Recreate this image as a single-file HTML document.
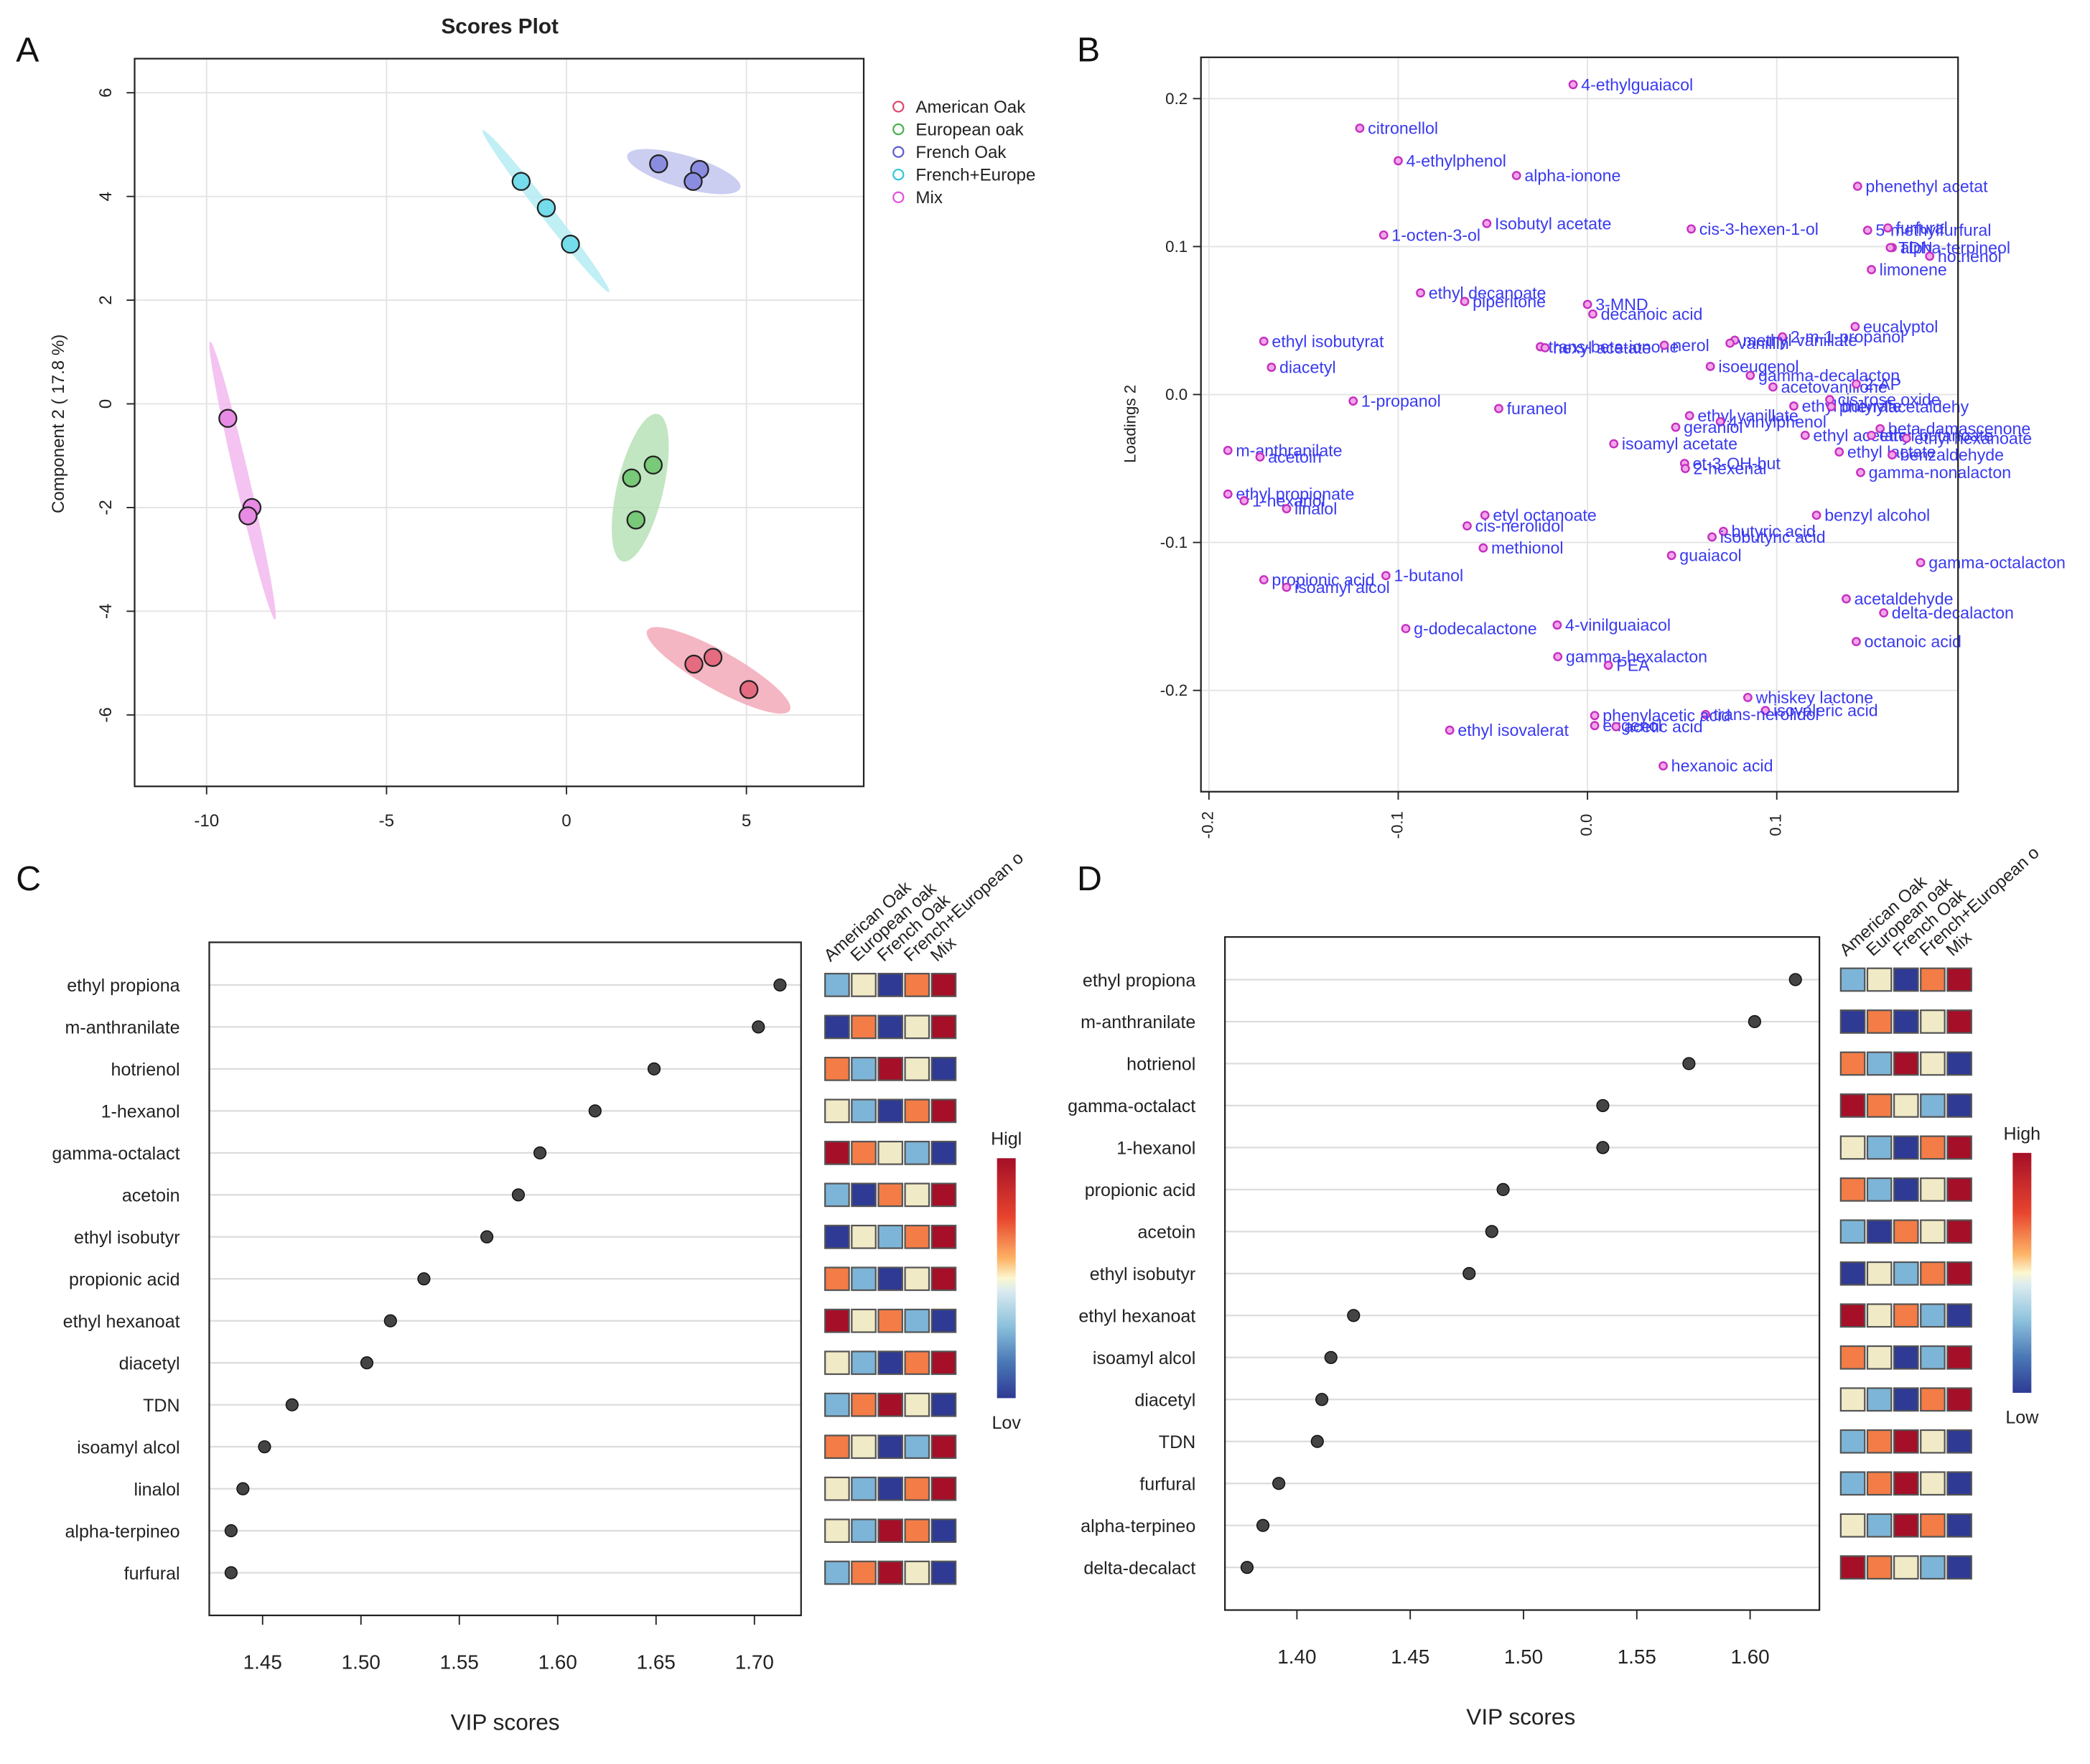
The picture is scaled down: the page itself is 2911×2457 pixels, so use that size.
<!DOCTYPE html>
<html><head><meta charset="utf-8">
<style>
html,body{margin:0;padding:0;background:#fff;}
svg{display:block;font-family:"Liberation Sans",sans-serif;}
</style></head>
<body>
<svg id="fig" width="2911" height="2457" viewBox="0 0 1568 1323.5" preserveAspectRatio="none" xmlns="http://www.w3.org/2000/svg">
<rect x="0" y="0" width="1568" height="1324" fill="#fff"/>
<g id="gA"></g>
<g id="gB"></g>
<g id="gC"></g>
<g id="gD"></g>
</svg>
<script>
// ---------- Panel A data ----------
const groupsA = ["American Oak","European oak","French Oak","French+Europe","Mix"];
const pointsAX = [[3.54,4.07,5.07],[1.81,2.41,1.93],[2.56,3.70,3.52],[-1.26,-0.56,0.11],[-9.41,-8.74,-8.85]];
const pointsAY = [[-5.02,-4.89,-5.51],[-1.43,-1.18,-2.24],[4.63,4.52,4.29],[4.29,3.78,3.08],[-0.28,-2.00,-2.16]];
const xTicksA = [-10,-5,0,5];
const yTicksA = [6,4,2,0,-2,-4,-6];
// ---------- Panel B data ----------
const loadNames = ["4-ethylguaiacol","citronellol","4-ethylphenol","alpha-ionone","phenethyl acetat","Isobutyl acetate","1-octen-3-ol","cis-3-hexen-1-ol","5-methylfurfural","furfural","alpha-terpineol","TDN","hotrienol","limonene","ethyl decanoate","piperitone","3-MND","decanoic acid","eucalyptol","2-m-1-propanol","methyl vanillate","vanillin","ethyl isobutyrat","trans-beta-ionone","hexyl acetate","nerol","diacetyl","isoeugenol","gamma-decalacton","acetovanillone","2-AP","1-propanol","furaneol","ethyl butyrate","cis-rose oxide","phenylacetaldehy","ethyl vanillate","4-vinylphenol","geraniol","beta-damascenone","ethyl acetate","ethyl butanoate","ethyl hexanoate","isoamyl acetate","ethyl lactate","benzaldehyde","m-anthranilate","acetoin","et-3-OH-but","2-hexenal","gamma-nonalacton","ethyl propionate","1-hexanol","linalol","etyl octanoate","cis-nerolidol","benzyl alcohol","butyric acid","isobutyric acid","methionol","guaiacol","gamma-octalacton","propionic acid","1-butanol","isoamyl alcol","acetaldehyde","delta-decalacton","g-dodecalactone","4-vinilguaiacol","octanoic acid","gamma-hexalacton","PEA","whiskey lactone","isovaleric acid","trans-nerolidol","phenylacetic acid","eugenol","acetic acid","ethyl isovalerat","hexanoic acid"];
const loadX = [-0.0076,-0.1203,-0.100,-0.0375,0.1427,-0.0532,-0.1077,0.0548,0.148,0.1587,0.161,0.160,0.1808,0.150,-0.0882,-0.0649,0.0,0.0028,0.1414,0.103,0.0778,0.0753,-0.171,-0.0249,-0.0224,0.0406,-0.167,0.0649,0.086,0.098,0.142,-0.1238,-0.0469,0.109,0.128,0.1288,0.0539,0.0702,0.0466,0.1546,0.115,0.150,0.1685,0.0139,0.133,0.161,-0.190,-0.173,0.0513,0.0517,0.1443,-0.190,-0.1814,-0.159,-0.0542,-0.0636,0.121,0.0718,0.0658,-0.0551,0.0444,0.176,-0.171,-0.1065,-0.159,0.1367,0.1565,-0.096,-0.016,0.142,-0.0157,0.011,0.0847,0.094,0.0624,0.0038,0.0038,0.0151,-0.0728,0.040];
const loadY = [0.2095,0.180,0.158,0.148,0.1408,0.1156,0.1078,0.1119,0.111,0.1126,0.0993,0.0993,0.0935,0.0844,0.0687,0.0629,0.0609,0.0544,0.0459,0.039,0.0367,0.0347,0.036,0.0323,0.0316,0.0333,0.0184,0.019,0.0129,0.0051,0.0071,-0.0044,-0.0095,-0.0078,-0.0034,-0.0082,-0.0143,-0.0184,-0.0221,-0.0231,-0.0276,-0.0276,-0.0296,-0.0333,-0.0388,-0.0408,-0.0378,-0.0422,-0.0466,-0.050,-0.0527,-0.0673,-0.0718,-0.0772,-0.0816,-0.0888,-0.0816,-0.0925,-0.0963,-0.1037,-0.1088,-0.1136,-0.1252,-0.1224,-0.1303,-0.1381,-0.1476,-0.1582,-0.1558,-0.167,-0.1772,-0.183,-0.2048,-0.2136,-0.2163,-0.217,-0.2238,-0.2245,-0.2269,-0.251];
const xTicksB = [-0.2,-0.1,0.0,0.1];
const yTicksB = [0.2,0.1,0.0,-0.1,-0.2];
// ---------- Panel C data ----------
const heatCols = ["American Oak","European oak","French Oak","French+European o","Mix"];
const namesC = ["ethyl propiona","m-anthranilate","hotrienol","1-hexanol","gamma-octalact","acetoin","ethyl isobutyr","propionic acid","ethyl hexanoat","diacetyl","TDN","isoamyl alcol","linalol","alpha-terpineo","furfural"];
const vipC = [1.713,1.702,1.649,1.619,1.591,1.580,1.564,1.532,1.515,1.503,1.465,1.451,1.440,1.434,1.434];
const heatC = [[1,2,0,3,4],[0,3,0,2,4],[3,1,4,2,0],[2,1,0,3,4],[4,3,2,1,0],[1,0,3,2,4],[0,2,1,3,4],[3,1,0,2,4],[4,2,3,1,0],[2,1,0,3,4],[1,3,4,2,0],[3,2,0,1,4],[2,1,0,3,4],[2,1,4,3,0],[1,3,4,2,0]];
const ticksC = [1.45,1.50,1.55,1.60,1.65,1.70];
// ---------- Panel D data ----------
const namesD = ["ethyl propiona","m-anthranilate","hotrienol","gamma-octalact","1-hexanol","propionic acid","acetoin","ethyl isobutyr","ethyl hexanoat","isoamyl alcol","diacetyl","TDN","furfural","alpha-terpineo","delta-decalact"];
const vipD = [1.620,1.602,1.573,1.535,1.535,1.491,1.486,1.476,1.425,1.415,1.411,1.409,1.392,1.385,1.378];
const heatD = [[1,2,0,3,4],[0,3,0,2,4],[3,1,4,2,0],[4,3,2,1,0],[2,1,0,3,4],[3,1,0,2,4],[1,0,3,2,4],[0,2,1,3,4],[4,2,3,1,0],[3,2,0,1,4],[2,1,0,3,4],[1,3,4,2,0],[1,3,4,2,0],[2,1,4,3,0],[4,3,2,1,0]];
const ticksD = [1.40,1.45,1.50,1.55,1.60];

const NS="http://www.w3.org/2000/svg";
function mk(parent,tag,attrs,text){const e=document.createElementNS(NS,tag);for(const k in attrs)e.setAttribute(k,attrs[k]);if(text!==undefined)e.textContent=text;parent.appendChild(e);return e;}
const fig=document.getElementById('fig');

[["A",12,46],["B",808,46],["C",12,668],["D",808,668]].forEach(l=>{
  const t=mk(fig,'text',{x:l[1],y:l[2],'font-size':26,fill:'#111'},l[0]);
  
  
});

// ===== Panel A =====
(function(){
const g=document.getElementById('gA');
const L=101,R=648,T=44,B=590;
const sx=v=>425+v*27, sy=v=>303-v*38.9;
xTicksA.forEach(v=>{const l=mk(g,'line',{x1:sx(v),x2:sx(v),y1:T,y2:B,stroke:'#e3e3e3','stroke-width':1});
  });
yTicksA.forEach(v=>{const l=mk(g,'line',{x1:L,x2:R,y1:sy(v),y2:sy(v),stroke:'#e3e3e3','stroke-width':1});
  });
const fills=['#f2a9b8','#b7e0b7','#c2c4ee','#b5ecf3','#f2b8ee'];
const pf=['#e56b80','#78c978','#8a8ddf','#74dcea','#e78be4'];
const lc=['#e0456a','#4caf50','#5a5ad0','#33c6dc','#e050e0'];
pointsAX.forEach((xs,gi)=>{
  const ys=pointsAY[gi];
  const px=xs.map(sx),py=ys.map(sy);
  const mx=px.reduce((a,b)=>a+b)/3,my=py.reduce((a,b)=>a+b)/3;
  let sxx=0,syy=0,sxy=0;for(let i=0;i<3;i++){sxx+=(px[i]-mx)**2;syy+=(py[i]-my)**2;sxy+=(px[i]-mx)*(py[i]-my);}
  sxx/=2;syy/=2;sxy/=2;
  const tr=sxx+syy,det=sxx*syy-sxy*sxy,d=Math.sqrt(Math.max(tr*tr/4-det,0));
  const l1=tr/2+d,l2=Math.max(tr/2-d,0.5);
  const ang=Math.atan2(l1-sxx,sxy||1e-6)*180/Math.PI;
  const k=2.45;
  const e=mk(g,'ellipse',{cx:mx,cy:my,rx:k*Math.sqrt(l1)*1.05,ry:Math.max(k*Math.sqrt(l2),5),transform:`rotate(${ang} ${mx} ${my})`,fill:fills[gi],'fill-opacity':0.85});
  
  
});
pointsAX.forEach((xs,gi)=>{xs.forEach((x,i)=>{
  const c=mk(g,'circle',{cx:sx(x),cy:sy(pointsAY[gi][i]),r:6.5,fill:pf[gi],stroke:'#222','stroke-width':1.2});
  
});});
mk(g,'rect',{x:L,y:T,width:R-L,height:B-T,fill:'none',stroke:'#222','stroke-width':1.2});
xTicksA.forEach(v=>{mk(g,'line',{x1:sx(v),x2:sx(v),y1:B,y2:B+6,stroke:'#222'});
  const t=mk(g,'text',{x:sx(v),y:B+30,'font-size':13,'text-anchor':'middle',fill:'#222'},String(v));
  });
yTicksA.forEach(v=>{mk(g,'line',{x1:L-6,x2:L,y1:sy(v),y2:sy(v),stroke:'#222'});
  const t=mk(g,'text',{x:80,y:sy(v),'font-size':13,'text-anchor':'middle',fill:'#222',transform:`rotate(-90 80 ${sy(v)})`,'dominant-baseline':'middle'},String(v));
  });
const yt=mk(g,'text',{x:48,y:318,'font-size':13,'text-anchor':'middle',fill:'#222',transform:'rotate(-90 48 318)'},'Component 2 ( 17.8 %)');

const ti=mk(g,'text',{x:375,y:25,'font-size':16,'font-weight':'bold','text-anchor':'middle',fill:'#222'},'Scores Plot');

groupsA.forEach((n,i)=>{
  const y=80+i*17;
  const c=mk(g,'circle',{cx:674,cy:y,r:3.8,fill:'none',stroke:lc[i],'stroke-width':1.2});
  
  const t=mk(g,'text',{x:687,y:y+4.5,'font-size':13,fill:'#222'},n);
  
});
})();

// ===== Panel B =====
(function(){
const g=document.getElementById('gB');
const L=901,R=1469,T=43,B=594;
const sx=v=>1191+v*1420, sy=v=>296-v*1110;
xTicksB.forEach(v=>{const l=mk(g,'line',{x1:sx(v),x2:sx(v),y1:T,y2:B,stroke:'#e3e3e3'});});
yTicksB.forEach(v=>{const l=mk(g,'line',{x1:L,x2:R,y1:sy(v),y2:sy(v),stroke:'#e3e3e3'});});
const clip=mk(g,'clipPath',{id:'clipB'});mk(clip,'rect',{x:L,y:T,width:R-L+80,height:B-T});
const inner=mk(g,'g',{'clip-path':'url(#clipB)'});
loadNames.forEach((n,i)=>{
  const x=sx(loadX[i]),y=sy(loadY[i]);
  const c=mk(inner,'circle',{cx:x,cy:y,r:2.8,fill:'#f3a6ea',stroke:'#c530c0','stroke-width':1.3});
  
  const t=mk(inner,'text',{x:x+6,y:y+4.3,'font-size':12.5,fill:'#3a3af0'},n);
  
});
mk(g,'rect',{x:L,y:T,width:R-L,height:B-T,fill:'none',stroke:'#222','stroke-width':1.2});
xTicksB.forEach(v=>{mk(g,'line',{x1:sx(v),x2:sx(v),y1:B,y2:B+6,stroke:'#222'});
  const lab=v===0?'0.0':String(v);
  const t=mk(g,'text',{x:sx(v),y:B+25,'font-size':12,'text-anchor':'middle','dominant-baseline':'middle',fill:'#222',transform:`rotate(-90 ${sx(v)} ${B+25})`},lab);
  });
yTicksB.forEach(v=>{mk(g,'line',{x1:L-6,x2:L,y1:sy(v),y2:sy(v),stroke:'#222'});
  const lab=v===0?'0.0':String(v);
  const t=mk(g,'text',{x:L-10,y:sy(v)+4,'font-size':12,'text-anchor':'end',fill:'#222'},lab);
  });
const yt=mk(g,'text',{x:852,y:318,'font-size':12,'text-anchor':'middle',fill:'#222',transform:'rotate(-90 852 318)'},'Loadings 2');

})();

// ===== VIP panels =====
const heatColors=['#2e3a94','#7db5d8','#f1eac6','#f47c46','#a50f27'];
function vipPanel(gid,names,vals,heat,ticks,cfg){
  const g=document.getElementById(gid);
  const sx=v=>cfg.x0+(v-ticks[0])*cfg.k;
  const rowY=i=>cfg.y0+i*cfg.dy;
  names.forEach((n,i)=>{
    const l=mk(g,'line',{x1:cfg.L,x2:cfg.R,y1:rowY(i),y2:rowY(i),stroke:'#dcdcdc','stroke-width':1.2});
    
    const t=mk(g,'text',{x:cfg.L-22,y:rowY(i)+5,'font-size':13.5,'text-anchor':'end',fill:'#222'},n);
    
  });
  mk(g,'rect',{x:cfg.L,y:cfg.T,width:cfg.R-cfg.L,height:cfg.B-cfg.T,fill:'none',stroke:'#222','stroke-width':1.2});
  vals.forEach((v,i)=>{
    const c=mk(g,'circle',{cx:sx(v),cy:rowY(i),r:4.5,fill:'#444',stroke:'#111','stroke-width':0.8});
    
  });
  ticks.forEach(v=>{
    mk(g,'line',{x1:sx(v),x2:sx(v),y1:cfg.B,y2:cfg.B+7,stroke:'#222'});
    const t=mk(g,'text',{x:sx(v),y:cfg.B+40,'font-size':15,'text-anchor':'middle',fill:'#222'},v.toFixed(2));
    
  });
  const at=mk(g,'text',{x:cfg.titleX,y:cfg.B+86,'font-size':17,'text-anchor':'middle',fill:'#222'},'VIP scores');
  
  heat.forEach((row,i)=>{row.forEach((v,j)=>{
    const r=mk(g,'rect',{x:cfg.hx+j*20,y:rowY(i)-8.5,width:18,height:17,fill:heatColors[v],stroke:'#555','stroke-width':1.2});
    
  });});
  heatCols.forEach((n,j)=>{
    const x=cfg.hx+j*20+4,y=cfg.T+15;
    const t=mk(g,'text',{x:x,y:y,'font-size':13,fill:'#222',transform:`rotate(-42 ${x} ${y})`},n);
    
  });
  const gid2=gid+'grad';
  const defs=mk(g,'defs',{});
  const lg=mk(defs,'linearGradient',{id:gid2,x1:0,y1:0,x2:0,y2:1});
  [['0','#a50f27'],['0.25','#e8452e'],['0.42','#fdb365'],['0.5','#fbf7d0'],['0.55','#dcecf0'],['0.7','#8cc1dc'],['0.85','#4a78b6'],['1','#2e3a94']].forEach(s=>mk(lg,'stop',{offset:s[0],'stop-color':s[1]}));
  const cb=mk(g,'rect',{x:cfg.cbx,y:cfg.cby,width:14,height:180,fill:`url(#${gid2})`});
  
  const h=mk(g,'text',{x:cfg.cbx+7,y:cfg.cby-10,'font-size':13.5,'text-anchor':'middle',fill:'#222'},cfg.hi);
  
  const lo=mk(g,'text',{x:cfg.cbx+7,y:cfg.cby+203,'font-size':13.5,'text-anchor':'middle',fill:'#222'},cfg.lo);
  
}
vipPanel('gC',namesC,vipC,heatC,ticksC,{L:157,R:601,T:707,B:1212,x0:197,k:1476,y0:739,dy:31.5,hx:619,cbx:748,cby:869,hi:'Higl',lo:'Lov',titleX:379});
vipPanel('gD',namesD,vipD,heatD,ticksD,{L:919,R:1365,T:703,B:1208,x0:973,k:1700,y0:735,dy:31.5,hx:1381,cbx:1510,cby:865,hi:'High',lo:'Low',titleX:1141});
</script>
</body></html>
